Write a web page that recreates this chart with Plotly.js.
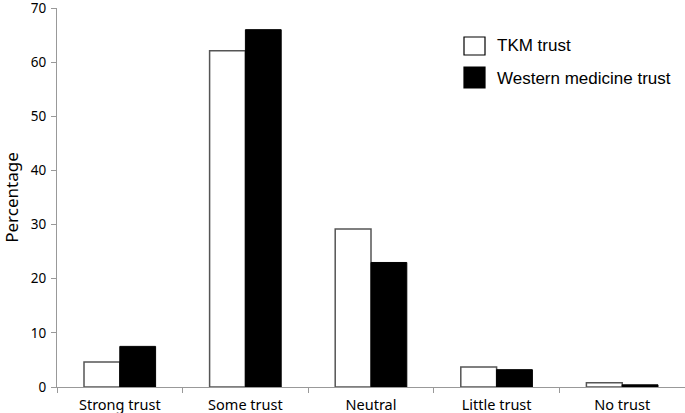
<!DOCTYPE html>
<html>
<head>
<meta charset="utf-8">
<script src="https://cdn.plot.ly/plotly-3.0.1.min.js"></script>
<style>html,body{margin:0;padding:0;background:#fff;}#chart{width:685px;height:413px;}</style>
</head>
<body>
<div id="chart"></div>
<script>
const categories = ["Strong trust", "Some trust", "Neutral", "Little trust", "No trust"];
const seriesNames = ["TKM trust", "Western medicine trust"];
const tkmTrust = [4.6, 62.1, 29.2, 3.7, 0.8];
const westernTrust = [7.5, 66.0, 23.0, 3.2, 0.4];
const yTickVals = [0, 10, 20, 30, 40, 50, 60, 70];

const xTickFont = {family: "Noto Sans, Open Sans, sans-serif", size: 14.5, color: "#000"};
const yTickFont = {family: "Noto Sans, Open Sans, sans-serif", size: 13.5, color: "#000"};

const traces = [
  {type: "bar", x: categories, y: tkmTrust, name: seriesNames[0],
   marker: {color: "#ffffff", line: {color: "#555555", width: 1.5}}, showlegend: false},
  {type: "bar", x: categories, y: westernTrust, name: seriesNames[1],
   marker: {color: "#000000", line: {color: "#000000", width: 1}}, showlegend: false}
];

const T = 8, B = 26, L = 57, PH = 413 - T - B, PW = 685 - L;
const legendFont = {family: "Liberation Sans, Arial, sans-serif", size: 17, color: "#000"};
const px = (x) => (x - L) / PW;
const py = (y) => (413 - B - y) / PH;
const layout = {
  width: 685, height: 413,
  margin: {l: L, r: 0, t: T, b: B},
  paper_bgcolor: "#fff", plot_bgcolor: "#fff",
  barmode: "group", bargap: 0.43, bargroupgap: 0,
  xaxis: {type: "category", tickson: "boundaries", ticks: "outside", ticklen: 5, tickcolor: "#999",
          showline: true, linecolor: "#999", linewidth: 1, showgrid: false, zeroline: false,
          tickfont: xTickFont, ticklabelstandoff: 5, automargin: false, fixedrange: true},
  yaxis: {range: [0, 70], tickvals: yTickVals, ticks: "outside", ticklen: 5, tickcolor: "#999",
          showline: true, linecolor: "#999", linewidth: 1, showgrid: false, zeroline: false,
          tickfont: yTickFont, ticklabelstandoff: 2, ticklabeloverflow: "allow",
          automargin: false, fixedrange: true,
          title: {text: "Percentage", font: {family: "Noto Sans, Open Sans, sans-serif", size: 17, color: "#000"}, standoff: 20}},
  shapes: [
    {type: "rect", xref: "paper", yref: "paper", x0: px(464), x1: px(485),
     y0: py(55), y1: py(37), fillcolor: "#fff", line: {color: "#000", width: 1.2}},
    {type: "rect", xref: "paper", yref: "paper", x0: px(464), x1: px(485),
     y0: py(88), y1: py(67), fillcolor: "#000", line: {color: "#000", width: 1.2}}
  ],
  annotations: [
    {xref: "paper", yref: "paper", x: px(495), y: py(46), xanchor: "left", yanchor: "middle",
     text: seriesNames[0], showarrow: false, font: legendFont},
    {xref: "paper", yref: "paper", x: px(495), y: py(78), xanchor: "left", yanchor: "middle",
     text: seriesNames[1], showarrow: false, font: legendFont}
  ]
};

Plotly.newPlot("chart", traces, layout, {displayModeBar: false, staticPlot: true});
</script>
</body>
</html>
